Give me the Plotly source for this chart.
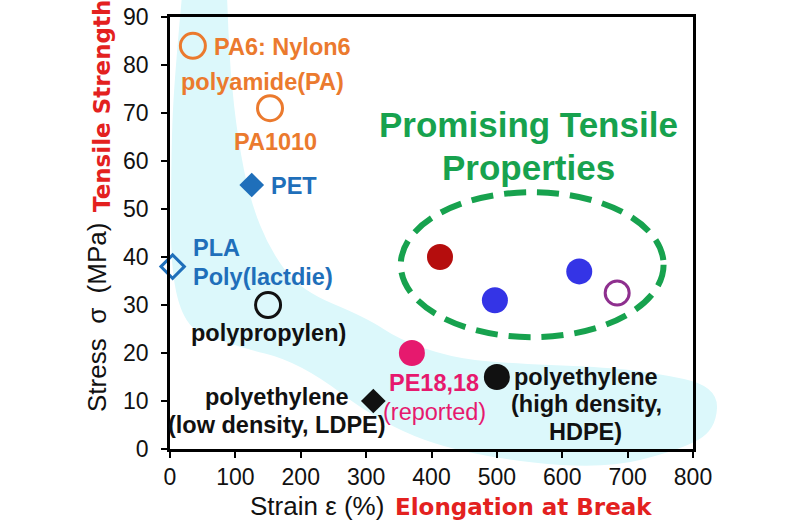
import plotly.graph_objects as go

# ---------------- data ----------------
materials = ["PA6", "PA1010", "PET", "PLA", "PP", "LDPE", "PE18,18", "HDPE",
             "New A", "New B", "New C", "New D"]
strain = [35, 153, 125, 4, 150, 311, 370, 500, 413, 497, 626, 684]      # %
stress = [84, 71, 55, 38, 30, 10, 20, 15, 40, 31, 37, 32.5]            # MPa

x_ticks = [0, 100, 200, 300, 400, 500, 600, 700, 800]
y_ticks = [0, 10, 20, 30, 40, 50, 60, 70, 80, 90]

# ---------------- styles ----------------
ORANGE = "#EB7A2E"
BLUE = "#1F6FBA"
BLACK = "#111111"
PINK = "#E6196E"
DARKRED = "#B50D0D"
VBLUE = "#3434E6"
PURPLE = "#8E2F8E"
GREEN = "#17A24E"
RED = "#E3211F"
CYAN = "#DCF8FB"

symbols = ["circle-open", "circle-open", "diamond", "diamond-open", "circle-open",
           "diamond", "circle", "circle", "circle", "circle", "circle", "circle-open"]
colors = [ORANGE, ORANGE, BLUE, BLUE, BLACK, BLACK, PINK, BLACK,
          DARKRED, VBLUE, VBLUE, PURPLE]
sizes = [25, 25, 19, 18, 25, 19, 26, 26, 26, 26, 26, 24]

fig = go.Figure()

for i, name in enumerate(materials):
    is_open = symbols[i].endswith("open")
    fig.add_trace(go.Scatter(
        x=[strain[i]], y=[stress[i]], mode="markers", name=name,
        marker=dict(symbol=symbols[i], size=sizes[i], color=colors[i],
                    line=dict(color=colors[i], width=3 if is_open else 0)),
        cliponaxis=False, showlegend=False))

# ---------------- labels ----------------
BOLD = "Liberation Sans"
LBL = 23.5
labels = [
    ("PA6: Nylon6", 65, 83.8, ORANGE, "left", True),
    ("polyamide(PA)", 141, 76.4, ORANGE, "center", True),
    ("PA1010", 161, 64.0, ORANGE, "center", True),
    ("PET", 151, 54.8, BLUE, "left", True),
    ("PLA", 32, 41.8, BLUE, "left", True),
    ("Poly(lactdie)", 32, 35.8, BLUE, "left", True),
    ("polypropylen)", 150, 24.2, BLACK, "center", True),
    ("polyethylene", 164, 10.8, BLACK, "center", True),
    ("(low density, LDPE)", 164, 5.0, BLACK, "center", True),
    ("PE18,18", 404, 13.7, PINK, "center", True),
    ("(reported)", 405, 7.7, PINK, "center", False),
    ("polyethylene", 636, 14.9, BLACK, "center", True),
    ("(high density,", 637, 9.3, BLACK, "center", True),
    ("HDPE)", 636, 3.6, BLACK, "center", True),
]
annotations = []
for text, lx, ly, col, anchor, bold in labels:
    annotations.append(dict(
        x=lx, y=ly, xref="x", yref="y", showarrow=False, xanchor=anchor,
        yanchor="middle", text=f"<b>{text}</b>" if bold else text,
        font=dict(family=BOLD, size=LBL, color=col)))

annotations += [
    dict(x=548, y=67.6, xref="x", yref="y", showarrow=False, xanchor="center",
         yanchor="middle", text="<b>Promising Tensile</b>",
         font=dict(family=BOLD, size=35, color=GREEN)),
    dict(x=548, y=58.6, xref="x", yref="y", showarrow=False, xanchor="center",
         yanchor="middle", text="<b>Properties</b>",
         font=dict(family=BOLD, size=35, color=GREEN)),
]

# ---------------- axis titles (paper coords) ----------------
L, R, T, B = 170, 107, 17, 75
W, H = 800, 524
pw, ph = W - L - R, H - T - B


def px(xp):
    return (xp - L) / pw


def py(yp):
    return (H - B - yp) / ph


NB = "\u00a0"
annotations += [
    dict(x=px(317), y=py(506), xref="paper", yref="paper", showarrow=False,
         xanchor="center", yanchor="middle",
         text="Strain ε (%)", font=dict(family="Liberation Sans", size=26, color=BLACK)),
    dict(x=px(523), y=py(507), xref="paper", yref="paper", showarrow=False,
         xanchor="center", yanchor="middle",
         text="<b>Elongation at Break</b>",
         font=dict(family="DejaVu Sans", size=23, color=RED)),
    dict(x=px(97), y=py(318), xref="paper", yref="paper", showarrow=False,
         xanchor="center", yanchor="middle",
         textangle=-90, text=f"Stress{NB}{NB}σ{NB}{NB}(MPa)",
         font=dict(family="Liberation Sans", size=26, color=BLACK)),
    dict(x=px(102), y=py(106), xref="paper", yref="paper", showarrow=False,
         xanchor="center", yanchor="middle",
         textangle=-90, text="<b>Tensile Strength</b>",
         font=dict(family="DejaVu Sans", size=23, color=RED)),
]

# ---------------- decorative band ----------------
outer = [(182, -4), (176, 60), (171, 140), (171, 320), (230, 345), (300, 362),
         (383, 425), (467, 455), (600, 470), (680, 450), (716, 430)]
inner = [(718, 386), (650, 372), (600, 367), (500, 363), (450, 357), (400, 340),
         (367, 318), (300, 290), (270, 250), (250, 200), (238, 140), (230, 70), (227, -4)]
pts = outer + inner
path = f"M {px(pts[0][0]):.4f},{py(pts[0][1]):.4f}"
for k in range(1, len(pts) - 1):
    cx, cy = pts[k]
    nx, ny = pts[k + 1]
    mx, my = (cx + nx) / 2, (cy + ny) / 2
    path += f" Q {px(cx):.4f},{py(cy):.4f} {px(mx):.4f},{py(my):.4f}"
path += f" L {px(pts[-1][0]):.4f},{py(pts[-1][1]):.4f} Z"

shapes = [
    dict(type="path", path=path, xref="paper", yref="paper", layer="below",
         fillcolor=CYAN, line=dict(width=0)),
    dict(type="circle", xref="x", yref="y", x0=353, x1=755, y0=23.3, y1=53.5,
         line=dict(color=GREEN, width=6, dash="22px,11px"), layer="above"),
]

axis_common = dict(showline=True, linecolor="black", linewidth=2.5, mirror=True,
                   ticks="outside", ticklen=6, tickwidth=2, tickcolor="black",
                   showgrid=False, zeroline=False, automargin=False,
                   tickfont=dict(family="Liberation Sans", size=23, color=BLACK))

fig.update_layout(
    width=W, height=H,
    margin=dict(l=L, r=R, t=T, b=B, autoexpand=False),
    paper_bgcolor="white", plot_bgcolor="rgba(0,0,0,0)",
    xaxis=dict(range=[0, 800], tickvals=x_ticks, ticklabelstandoff=0, **axis_common),
    yaxis=dict(range=[0, 90], tickvals=y_ticks, ticklabelstandoff=8, **axis_common),
    annotations=annotations, shapes=shapes, showlegend=False,
)

fig.write_html("out.html", config={"displayModeBar": False},
               post_script="document.body.style.margin='0';document.body.style.overflow='hidden';")
